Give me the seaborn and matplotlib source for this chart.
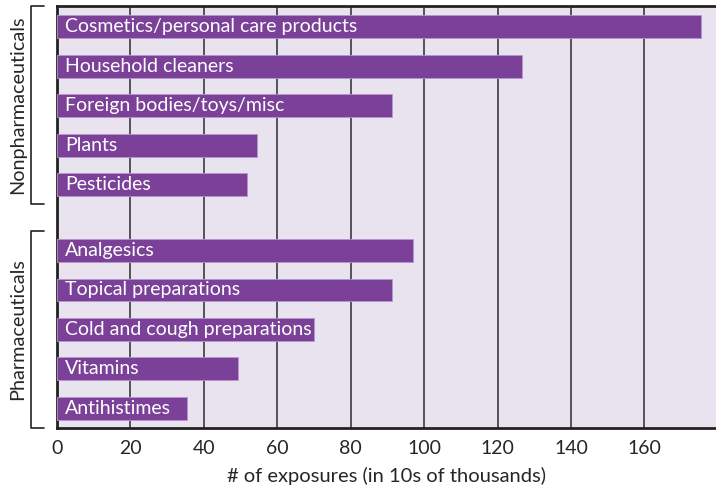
import numpy as np
import pandas as pd
import matplotlib.pyplot as plt
import matplotlib.transforms as mtransforms
import seaborn as sns

nonpharm = ['Cosmetics/personal care products', 'Household cleaners',
            'Foreign bodies/toys/misc', 'Plants', 'Pesticides']
nonpharm_vals = [175.3, 126.6, 91.3, 54.4, 51.8]
pharm = ['Analgesics', 'Topical preparations', 'Cold and cough preparations',
         'Vitamins', 'Antihistimes']
pharm_vals = [97.1, 91.2, 70.1, 49.3, 35.3]
group_names = ['Nonpharmaceuticals', 'Pharmaceuticals']
xticks = [0, 20, 40, 60, 80, 100, 120, 140, 160]

gap = 0.67
pos = list(np.arange(len(nonpharm))) + list(np.arange(len(pharm)) + len(nonpharm) + gap)
df = pd.DataFrame({'category': nonpharm + pharm,
                   'exposures': nonpharm_vals + pharm_vals,
                   'pos': pos})

sns.set_style('white')
plt.rcParams['font.family'] = ['Lato', 'DejaVu Sans']

fig = plt.figure(figsize=(7.16, 4.91), dpi=100)
ax = fig.add_axes([57 / 716, 1 - 428 / 491, (716 - 57) / 716, (428 - 6) / 491])
ax.set_facecolor('#E9E3F0')

sns.barplot(data=df, x='exposures', y='pos', orient='h', native_scale=True,
            color='#7B4198', saturation=1, width=0.58, edgecolor='#B894CC',
            linewidth=0.6, zorder=3, ax=ax)

for _, r in df.iterrows():
    ax.text(2.2, r['pos'], r['category'], color='white', fontsize=14,
            va='center', ha='left', zorder=4)

ax.set_xlim(0, 179.5)
ax.set_ylim(df['pos'].max() + 0.5, -0.53)
ax.set_xticks(xticks)
ax.set_xticklabels([str(t) for t in xticks], fontsize=14)
for t in xticks[1:]:
    ax.axvline(t, color='#3a3a3a', lw=1.2, zorder=1)

yt = sorted(set([p - 0.5 for p in pos] + [p + 0.5 for p in pos]))
ax.set_yticks(yt)
ax.set_yticklabels([])
ax.set_ylabel('')
ax.set_xlabel('# of exposures (in 10s of thousands)', fontsize=14.5, labelpad=7)
ax.tick_params(axis='both', direction='out', length=4, width=1.2, color='#222222')
ax.tick_params(axis='x', pad=5)

for s in ['left', 'bottom', 'top']:
    ax.spines[s].set_color('#222222')
    ax.spines[s].set_linewidth(2)
ax.spines['right'].set_visible(False)

# group brackets
trans = mtransforms.blended_transform_factory(fig.transFigure, ax.transData)
groups = [(-0.53, len(nonpharm) - 0.5), (len(nonpharm) + gap - 0.5, df['pos'].max() + 0.5)]
for name, (y0, y1) in zip(group_names, groups):
    x0, x1 = 31 / 716, 44 / 716
    ax.plot([x1, x0, x0, x1], [y0, y0, y1, y1], color='#222222', lw=1.2,
            transform=trans, clip_on=False)
    ax.text(18 / 716, (y0 + y1) / 2, name, rotation=90, fontsize=14.3,
            ha='center', va='center', transform=trans)

fig.savefig('out.png', dpi=100)
